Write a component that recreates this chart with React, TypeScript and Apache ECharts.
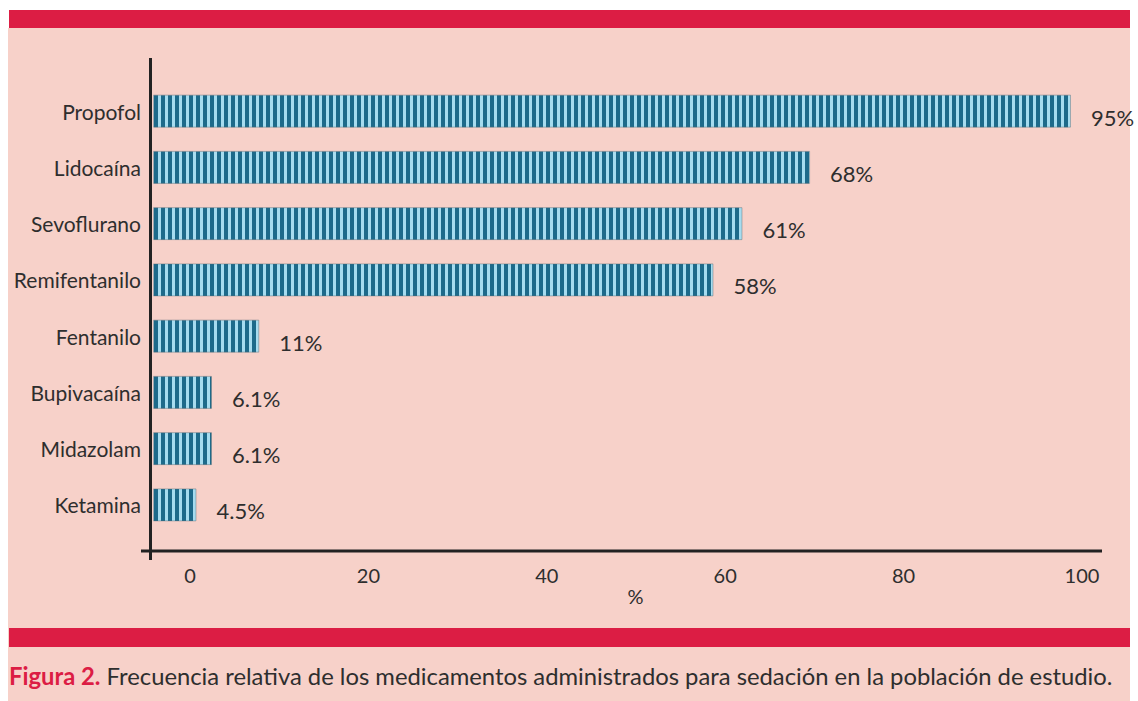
import React, { useEffect, useRef } from "react";
import * as echarts from "echarts";

const categories = ["Propofol", "Lidocaína", "Sevoflurano", "Remifentanilo", "Fentanilo", "Bupivacaína", "Midazolam", "Ketamina"];
const values = [95, 68, 61, 58, 11, 6.1, 6.1, 4.5];
const valueLabels = ["95%", "68%", "61%", "58%", "11%", "6.1%", "6.1%", "4.5%"];
const tickValues = [0, 20, 40, 60, 80, 100];
const axisName = "%";
const captionBold = "Figura 2.";
const captionText = " Frecuencia relativa de los medicamentos administrados para sedación en la población de estudio.";

const FONT = "Lato";
const TEXT = "#2e2e2e";
const PINK = "#f7d1c9";
const RED = "#dc1d44";

function makePattern() {
  const c = document.createElement("canvas");
  c.width = 7;
  c.height = 4;
  const ctx = c.getContext("2d")!;
  ctx.fillStyle = "#a6dcef";
  ctx.fillRect(0, 0, 7, 4);
  ctx.fillStyle = "#1d6a8a";
  ctx.fillRect(0, 0, 4, 4);
  return c;
}

export default function App() {
  const ref = useRef<HTMLDivElement>(null);
  useEffect(() => {
    const chart = echarts.init(ref.current!, null, { renderer: "svg" });
    const pattern = makePattern();
    chart.setOption({
      animation: false,
      backgroundColor: "#ffffff",
      textStyle: { fontFamily: FONT },
      graphic: [
        { type: "rect", z: -10, shape: { x: 8, y: 28, width: 1122, height: 673 }, style: { fill: PINK } },
        { type: "rect", z: -9, shape: { x: 9, y: 10, width: 1121, height: 18 }, style: { fill: RED } },
        { type: "rect", z: -9, shape: { x: 9, y: 628, width: 1121, height: 19 }, style: { fill: RED } },
        { type: "line", z: 50, shape: { x1: 150.5, y1: 58, x2: 150.5, y2: 560 }, style: { stroke: "#222", lineWidth: 3 } },
        { type: "line", z: 50, shape: { x1: 141, y1: 551, x2: 1102, y2: 551 }, style: { stroke: "#222", lineWidth: 3 } },
        {
          type: "text",
          left: 9,
          top: 664,
          style: {
            text: `{a|${captionBold}}{b|${captionText}}`,
            rich: {
              a: { fontFamily: FONT, fontSize: 23.8, fontWeight: "bold", fill: RED },
              b: { fontFamily: FONT, fontSize: 23.8, fill: TEXT },
            },
          },
        },
      ],
      grid: [
        { left: 153, top: 83, width: 947, height: 450, containLabel: false },
        { left: 141, top: 300, width: 961, height: 251, containLabel: false },
      ],
      xAxis: [
        { type: "value", gridIndex: 0, min: 0, max: 98, show: false },
        {
          type: "value",
          gridIndex: 1,
          min: -5.49,
          max: 102.24,
          axisLine: { show: false },
          axisTick: { show: false },
          splitLine: { show: false },
          axisLabel: { customValues: tickValues, color: TEXT, fontSize: 20, margin: 14, fontFamily: FONT },
          name: axisName,
          nameLocation: "middle",
          nameGap: 32,
          nameTextStyle: { color: TEXT, fontSize: 20, fontFamily: FONT, padding: [0, 0, 0, 28] },
        },
      ],
      yAxis: [
        {
          type: "category",
          gridIndex: 0,
          data: categories,
          inverse: true,
          axisLine: { show: false },
          axisTick: { show: false },
          axisLabel: { color: TEXT, fontSize: 21, margin: 12, fontFamily: FONT },
        },
        { type: "value", gridIndex: 1, show: false, min: 0, max: 1 },
      ],
      series: [
        {
          type: "bar",
          xAxisIndex: 0,
          yAxisIndex: 0,
          data: values,
          barWidth: 33,
          itemStyle: {
            color: { image: pattern, repeat: "repeat" },
            borderColor: "rgba(90,110,120,0.45)",
            borderWidth: 1,
          },
          label: {
            show: true,
            position: "right",
            distance: 20,
            offset: [0, 6],
            color: TEXT,
            fontSize: 22,
            fontFamily: FONT,
            formatter: (p: any) => valueLabels[p.dataIndex],
          },
        },
      ],
    });
    return () => chart.dispose();
  }, []);
  return <div ref={ref} style={{ position: "fixed", left: 0, top: 0, width: 1138, height: 701 }} />;
}
